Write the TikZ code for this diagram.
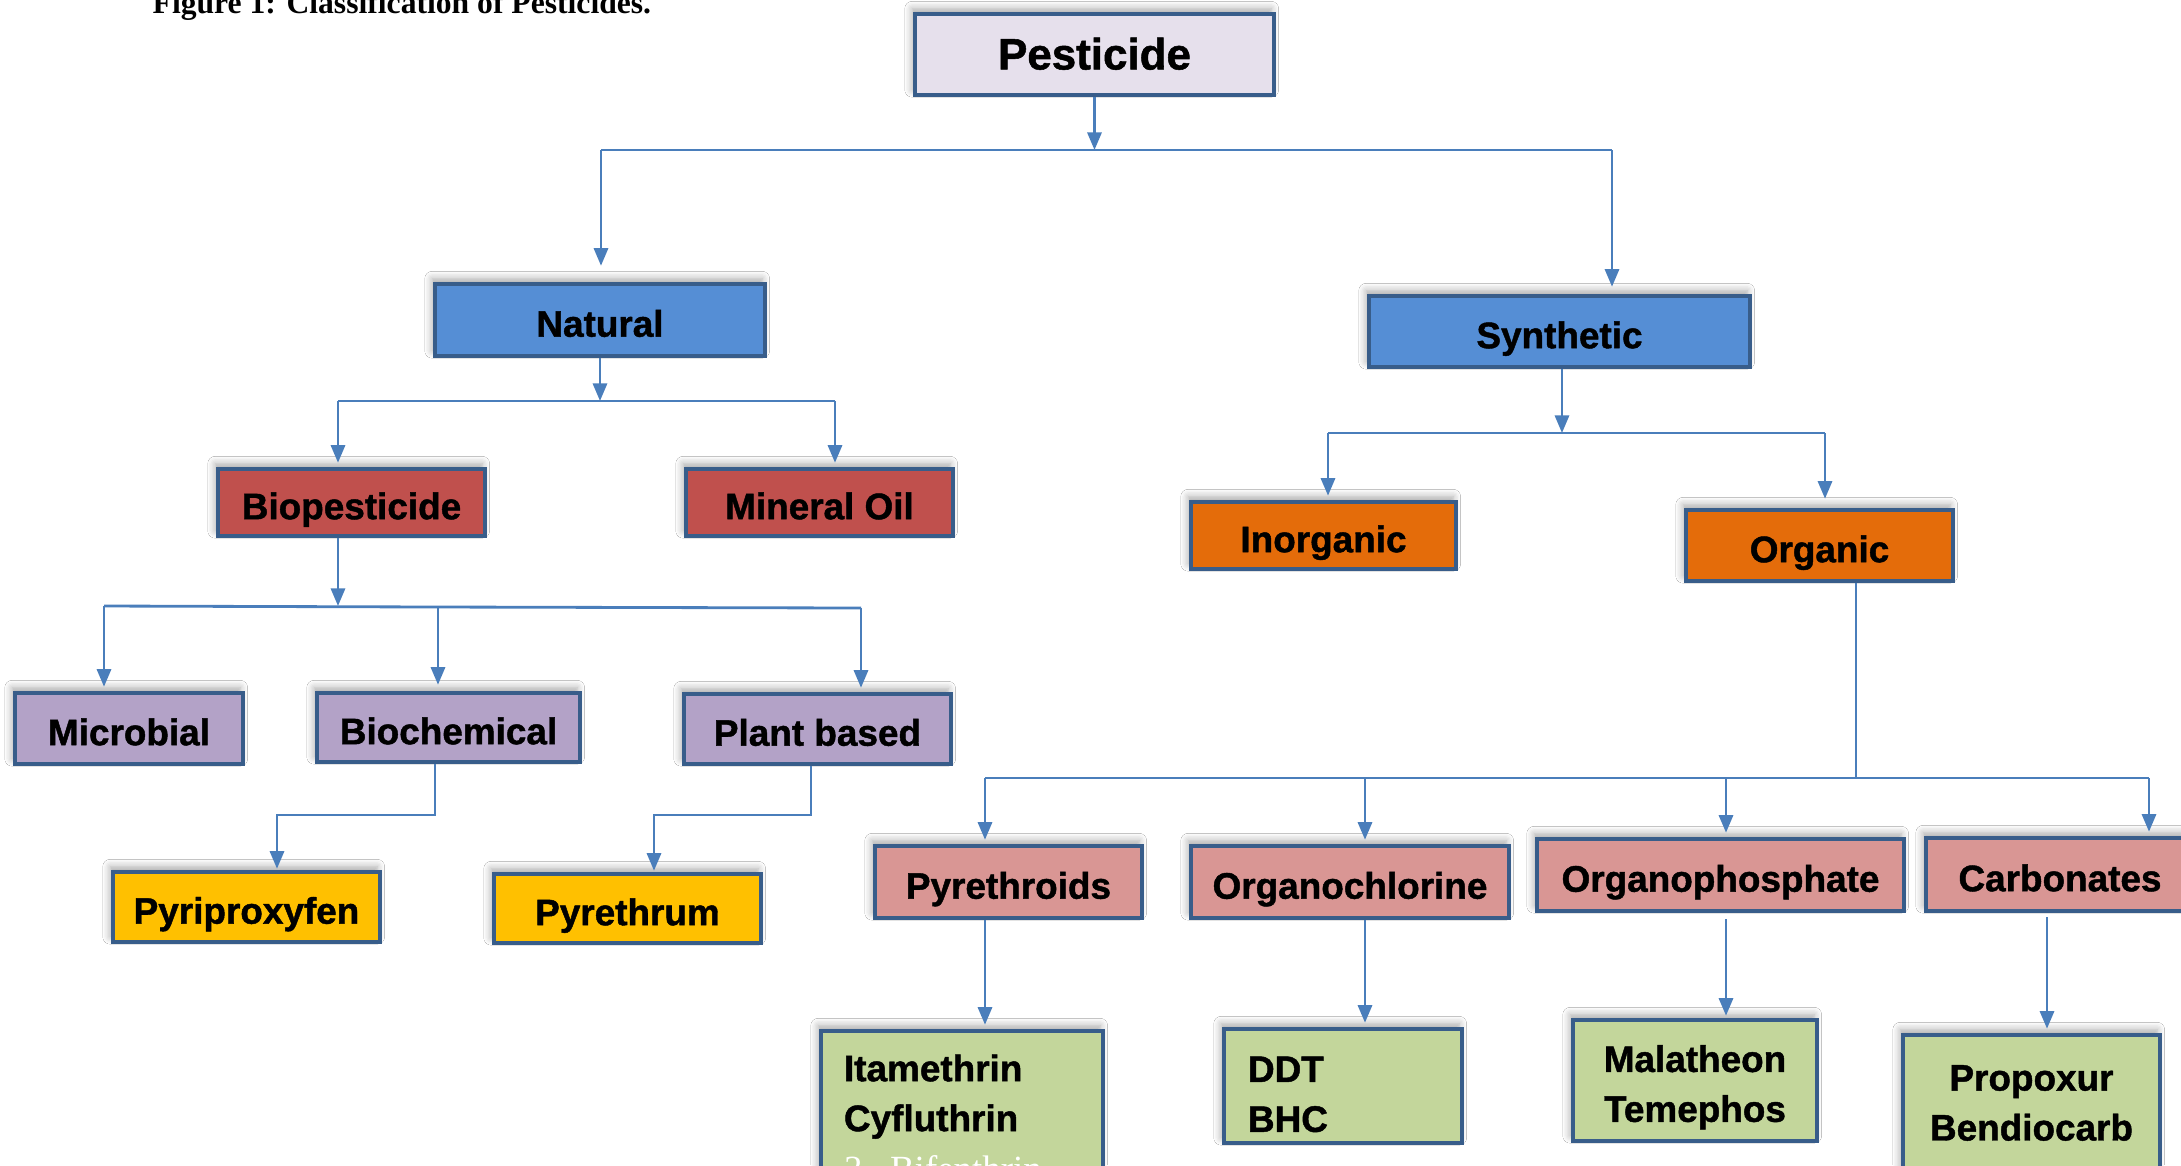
\documentclass[tikz,border=0pt]{standalone}
\usepackage{fontspec}
\setmainfont{Liberation Sans}[BoldFeatures={FakeBold=1.2}]
\newfontfamily\capfont{Liberation Serif}
\usetikzlibrary{arrows.meta,shadows.blur}

\definecolor{edgeblue}{HTML}{385D8A}
\definecolor{linkblue}{HTML}{4A7EBB}
\definecolor{rootfill}{HTML}{E6E0EC}
\definecolor{kindfill}{HTML}{558ED5}
\definecolor{redfill}{HTML}{C0504D}
\definecolor{orangefill}{HTML}{E46C0A}
\definecolor{lilacfill}{HTML}{B3A2C7}
\definecolor{goldfill}{HTML}{FFC000}
\definecolor{rosefill}{HTML}{D99694}
\definecolor{leaffill}{HTML}{C3D69B}

\newcommand\dropstrut[1]{\rule{0pt}{#1}}

\begin{document}
\begin{tikzpicture}[
        box/.style={rectangle,draw=edgeblue,line width=1.3pt,inner sep=0pt,
            font=\fontsize{10.5}{14.2}\selectfont\bfseries,
            blur shadow={shadow xshift=-0.8pt,shadow yshift=1.5pt,shadow opacity=35,shadow blur steps=6}},
        tag/.style={box,text height=9.5pt,text depth=0pt},
        dims/.style 2 args={minimum width=#1cm,minimum height=#2cm},
        link/.style={draw=linkblue,line width=0.8pt},
        arr/.style={link,-{Triangle[length=5pt,width=4pt]},shorten >=0.4mm}]

            \fill[white] (0,0) rectangle (21.81,-11.65);
            \useasboundingbox (0,0) rectangle (21.81,-11.65);

            % caption, cut at the top
            \node[anchor=base west,inner sep=0pt,font=\capfont\fontsize{9}{11}\selectfont\bfseries] (cap) at (1.52,-0.13) {Figure 1: Classification of Pesticides.};

            % boxes
            \node[tag,fill=rootfill,dims={3.59}{0.81},text height=8.5pt,font=\fontsize{12.5}{15}\selectfont\bfseries] (pest) at (10.945,-0.545) {Pesticide};

            \node[tag,fill=kindfill,dims={3.30}{0.72}] (nat) at (6.00,-3.20) {Natural};
            \node[tag,fill=kindfill,dims={3.81}{0.71}] (syn) at (15.595,-3.315) {Synthetic};

            \node[tag,fill=redfill,dims={2.67}{0.67}] (bio) at (3.515,-5.025) {Biopesticide};
            \node[tag,fill=redfill,dims={2.67}{0.67}] (mino) at (8.195,-5.025) {Mineral Oil};
            \node[tag,fill=orangefill,dims={2.65}{0.67}] (inorg) at (13.235,-5.355) {Inorganic};
            \node[tag,fill=orangefill,dims={2.67}{0.71}] (org) at (18.195,-5.455) {Organic};

            \node[tag,fill=lilacfill,dims={2.28}{0.71}] (mic) at (1.29,-7.285) {Microbial};
            \node[tag,fill=lilacfill,dims={2.63}{0.69}] (bioc) at (4.485,-7.275) {Biochemical};
            \node[tag,fill=lilacfill,dims={2.67}{0.70}] (plant) at (8.175,-7.29) {Plant based};

            \node[tag,fill=goldfill,dims={2.67}{0.70}] (pyrip) at (2.465,-9.07) {Pyriproxyfen};
            \node[tag,fill=goldfill,dims={2.67}{0.69}] (pyrum) at (6.275,-9.085) {Pyrethrum};

            \node[tag,fill=rosefill,dims={2.67}{0.72}] (pyroid) at (10.085,-8.82) {Pyrethroids};
            \node[tag,fill=rosefill,dims={3.18}{0.72}] (ochl) at (13.50,-8.82) {Organochlorine};
            \node[tag,fill=rosefill,dims={3.67}{0.72}] (ophos) at (17.205,-8.75) {Organophosphate};
            \node[tag,fill=rosefill,dims={2.68}{0.73}] (carb) at (20.60,-8.745) {Carbonates};

            \node[box,fill=leaffill,dims={2.82}{1.74},text width=2.36cm,align=left] (itam) at (9.62,-11.18)
                {Itamethrin\\Cyfluthrin\\{\color{white}\mdseries\capfont 3. Bifenthrin}};
            \node[box,fill=leaffill,dims={2.38}{1.14},text width=1.90cm,align=left] (ddt) at (13.43,-10.86) {\dropstrut{12pt}DDT\\BHC};
            \node[box,fill=leaffill,dims={2.44}{1.21},align=center] (mala) at (16.95,-10.805) {\dropstrut{11.5pt}Malatheon\\Temephos};
            \node[box,fill=leaffill,dims={2.57}{1.36},align=center] (propx) at (20.315,-11.03) {Propoxur\\Bendiocarb};

            % pesticide split
            \coordinate (j1) at (10.945,-1.50);
            \coordinate (j1l) at (6.01,-1.50);
            \coordinate (j1r) at (16.12,-1.50);
            \draw[arr,shorten >=0pt] (pest.south) -- (j1);
            \draw[link] (j1l) -- (j1r);
            \draw[arr,shorten >=1.6mm] (j1l) -- (j1l |- nat.north);
            \draw[arr,shorten >=0.7mm] (j1r) -- (j1r |- syn.north);

            % natural split
            \coordinate (j2) at (6.00,-4.01);
            \coordinate (j2l) at (3.38,-4.01);
            \coordinate (j2r) at (8.35,-4.01);
            \draw[arr,shorten >=0pt] (nat.south) -- (j2);
            \draw[link] (j2l) -- (j2r);
            \draw[arr] (j2l) -- (j2l |- bio.north);
            \draw[arr] (j2r) -- (j2r |- mino.north);

            % synthetic split
            \coordinate (j3) at (15.62,-4.33);
            \coordinate (j3l) at (13.28,-4.33);
            \coordinate (j3r) at (18.25,-4.33);
            \draw[arr,shorten >=0pt] (j3 |- syn.south) -- (j3);
            \draw[link] (j3l) -- (j3r);
            \draw[arr] (j3l) -- (j3l |- inorg.north);
            \draw[arr,shorten >=0.9mm] (j3r) -- (j3r |- org.north);

            % biopesticide split
            \coordinate (j4) at (3.38,-6.06);
            \coordinate (j4a) at (1.04,-6.06);
            \coordinate (j4b) at (4.38,-6.07);
            \coordinate (j4c) at (8.61,-6.08);
            \draw[arr,shorten >=0pt] (j4 |- bio.south) -- (j4);
            \draw[link] (j4a) -- (j4b) -- (j4c);
            \draw[arr] (j4a) -- (j4a |- mic.north);
            \draw[arr,shorten >=0.6mm] (j4b) -- (j4b |- bioc.north);
            \draw[arr] (j4c) -- (j4c |- plant.north);

            % elbows
            \coordinate (k1) at (2.77,-8.15);
            \coordinate (k2) at (6.54,-8.15);
            \draw[arr,shorten >=0.1mm] ([xshift=-1.35mm]bioc.south) |- (k1) -- (k1 |- pyrip.north);
            \draw[arr,shorten >=0.1mm] ([xshift=-0.65mm]plant.south) |- (k2) -- (k2 |- pyrum.north);

            % organic split
            \coordinate (j7) at (18.56,-7.78);
            \coordinate (j7a) at (9.85,-7.78);
            \coordinate (j7b) at (13.65,-7.78);
            \coordinate (j7c) at (17.26,-7.78);
            \coordinate (j7d) at (21.49,-7.78);
            \draw[link] (j7 |- org.south) -- (j7);
            \draw[link] (j7a) -- (j7d);
            \draw[arr] (j7a) -- (j7a |- pyroid.north);
            \draw[arr] (j7b) -- (j7b |- ochl.north);
            \draw[arr] (j7c) -- (j7c |- ophos.north);
            \draw[arr] (j7d) -- (j7d |- carb.north);

            % down to the lists
            \coordinate (d4) at (20.47,-9.17);
            \draw[arr] (j7a |- pyroid.south) -- (j7a |- itam.north);
            \draw[arr] (j7b |- ochl.south) -- (j7b |- ddt.north);
            \draw[arr,shorten >=0.2mm] ([yshift=-0.6mm]j7c |- ophos.south) -- (j7c |- mala.north);
            \draw[arr] (d4) -- (d4 |- propx.north);
        \end{tikzpicture}
\end{document}
